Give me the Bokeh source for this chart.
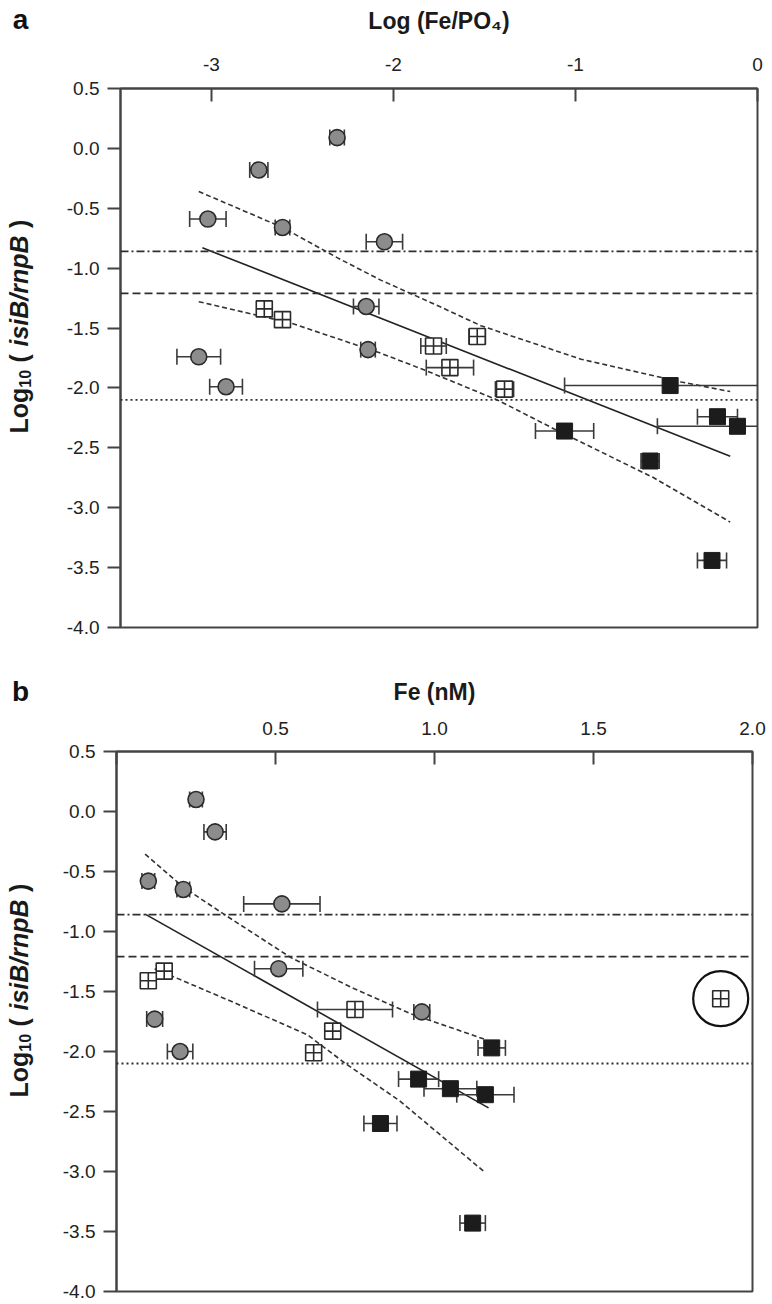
import numpy as np
from bokeh.plotting import figure
from bokeh.models import Range1d, FixedTicker, PrintfTickFormatter, Span
from bokeh.core.properties import value
from bokeh.layouts import column, row
from bokeh.embed import file_html
from bokeh.resources import INLINE

# ---------------- data ----------------
y_ticks = [-4.0, -3.5, -3.0, -2.5, -2.0, -1.5, -1.0, -0.5, 0.0, 0.5]
a_x_ticks = [-3, -2, -1, 0]
b_x_ticks = [0, 0.5, 1.0, 1.5, 2.0]

thr_dashdot = -0.86
thr_dashed = -1.21
thr_dotted = -2.10

# panel a: x = Log(Fe/PO4)
a_circ_x = [-2.31, -2.74, -3.02, -2.61, -2.05, -2.15, -2.14, -3.07, -2.92]
a_circ_y = [0.09, -0.18, -0.59, -0.66, -0.78, -1.32, -1.68, -1.74, -1.99]
a_circ_xerr = [0.04, 0.05, 0.10, 0.04, 0.10, 0.07, 0.04, 0.12, 0.09]

a_open_x = [-2.71, -2.61, -1.78, -1.54, -1.69, -1.39]
a_open_y = [-1.34, -1.43, -1.65, -1.57, -1.83, -2.01]
a_open_xerr = [0.04, 0.03, 0.07, 0.045, 0.13, 0.05]

a_fill_x = [-0.48, -0.22, -0.11, -1.06, -0.59, -0.25]
a_fill_y = [-1.98, -2.24, -2.32, -2.36, -2.61, -3.44]
a_fill_xerr = [0.58, 0.11, 0.44, 0.16, 0.05, 0.08]

a_fit_x = [-3.05, -0.15]
a_fit_y = [-0.83, -2.57]
a_up_x = [-3.07, -2.61, -2.30, -2.07, -1.79, -1.52, -0.97, -0.42, -0.15]
a_up_y = [-0.36, -0.66, -0.92, -1.10, -1.29, -1.48, -1.76, -1.95, -2.03]
a_lo_x = [-3.07, -2.56, -2.07, -1.83, -1.43, -1.12, -0.57, -0.15]
a_lo_y = [-1.28, -1.46, -1.71, -1.85, -2.10, -2.34, -2.75, -3.12]

# panel b: x = Fe (nM)
b_circ_x = [0.25, 0.31, 0.10, 0.21, 0.52, 0.51, 0.96, 0.12, 0.20]
b_circ_y = [0.10, -0.17, -0.58, -0.65, -0.77, -1.31, -1.67, -1.73, -2.00]
b_circ_xerr = [0.02, 0.035, 0.02, 0.02, 0.12, 0.076, 0.025, 0.025, 0.04]

b_open_x = [0.15, 0.10, 0.75, 1.90, 0.68, 0.62]
b_open_y = [-1.33, -1.41, -1.65, -1.56, -1.83, -2.01]
b_open_xerr = [0.02, 0.01, 0.118, 0.02, 0.02, 0.02]

b_fill_x = [1.18, 0.95, 1.05, 1.16, 0.83, 1.12]
b_fill_y = [-1.97, -2.23, -2.31, -2.36, -2.60, -3.43]
b_fill_xerr = [0.043, 0.063, 0.083, 0.09, 0.052, 0.04]

b_ring_x = [1.90]
b_ring_y = [-1.56]

b_fit_x = [0.09, 1.17]
b_fit_y = [-0.855, -2.47]
b_up_x = [0.09, 0.21, 0.34, 0.55, 0.75, 0.93, 1.16]
b_up_y = [-0.355, -0.63, -0.86, -1.22, -1.48, -1.69, -1.90]
b_lo_x = [0.12, 0.35, 0.60, 0.72, 0.89, 1.16]
b_lo_y = [-1.31, -1.57, -1.86, -2.10, -2.41, -3.01]

# ---------------- style ----------------
FONT = "Liberation Sans"
AX = "#444444"
ERR = "#3a3a3a"
TICK_SIZE = "19px"
LAB_SIZE = "23px"
SIDE_W = 40


def errbars(p, x, y, e):
    x = np.asarray(x, float)
    y = np.asarray(y, float)
    e = np.asarray(e, float)
    p.segment(x0=x - e, y0=y, x1=x + e, y1=y, line_color=ERR, line_width=1.6)
    p.scatter(x=np.concatenate([x - e, x + e]), y=np.concatenate([y, y]),
              marker="dash", size=16, angle=np.pi / 2,
              line_color=ERR, line_width=1.6)


def side_fig(fh, bt, bb, letter, letter_standoff, lab_y0, lab_x=18, F=25):
    """Narrow strip at the left: panel letter (as top-axis title) and the y-axis title."""
    f = figure(x_range=Range1d(0, SIDE_W), y_range=Range1d(0, fh),
               frame_width=SIDE_W, frame_height=fh, min_border_left=0,
               min_border_right=0, min_border_top=bt, min_border_bottom=bb,
               x_axis_location="above", y_axis_type=None, title=None,
               toolbar_location=None, output_backend="svg")
    f.grid.visible = False
    f.outline_line_color = None
    xa = f.xaxis[0]
    xa.ticker = FixedTicker(ticks=[])
    xa.axis_line_color = None
    xa.major_tick_line_color = None
    xa.minor_tick_line_color = None
    xa.major_tick_out = 0
    xa.major_tick_in = 0
    xa.major_label_standoff = 0
    xa.axis_label = letter
    xa.axis_label_text_font = FONT
    xa.axis_label_text_font_style = "bold"
    xa.axis_label_text_font_size = "28px"
    xa.axis_label_text_color = "#111111"
    xa.axis_label_standoff = letter_standoff

    def txt(t, x, y, style, size):
        f.text(x=[x], y=[y], text=[t], angle=np.pi / 2, text_font=value(FONT),
               text_font_style=value(style), text_font_size=value(f"{size}px"),
               text_align=value("left"), text_baseline=value("middle"),
               text_color="#1a1a1a")

    sub = round(F * 0.62)
    w = 0.0
    txt("Log", lab_x, lab_y0, "bold", F)
    w += 1.833 * F
    txt("10", lab_x + F * 0.25, lab_y0 + w, "bold", sub)
    w += 2 * 0.556 * sub + 0.3 * F
    txt("(", lab_x, lab_y0 + w, "bold", F)
    w += 0.333 * F + 0.3 * F
    txt("isiB/rnpB", lab_x, lab_y0 + w, "bold italic", F)
    w += 4.445 * F + 0.3 * F
    txt(")", lab_x, lab_y0 + w, "bold", F)
    return f


def make_panel(xr, xticks, xfmt, xlabel, fw, fh, bl, bt, bb, br,
               tick_standoff, xlab_standoff, overrides=None):
    p = figure(x_range=Range1d(*xr), y_range=Range1d(-4.0, 0.5),
               x_axis_location="above", frame_width=fw, frame_height=fh,
               min_border_left=bl, min_border_top=bt, min_border_bottom=bb,
               min_border_right=br, output_backend="svg", title=None,
               toolbar_location=None, background_fill_color="white",
               border_fill_color="white")
    p.grid.visible = False
    p.outline_line_color = AX
    p.outline_line_width = 2
    p.outline_line_alpha = 1.0

    xa = p.xaxis[0]
    xa.ticker = FixedTicker(ticks=xticks)
    xa.formatter = PrintfTickFormatter(format=xfmt)
    if overrides:
        xa.major_label_overrides = overrides
    xa.major_tick_in = 13
    xa.major_tick_out = 0
    xa.minor_tick_line_color = None
    xa.axis_line_color = AX
    xa.axis_line_width = 2
    xa.major_tick_line_color = AX
    xa.major_tick_line_width = 2
    xa.major_label_text_font = FONT
    xa.major_label_text_font_size = TICK_SIZE
    xa.major_label_text_color = "#222222"
    xa.major_label_standoff = tick_standoff
    xa.axis_label = xlabel
    xa.axis_label_text_font = FONT
    xa.axis_label_text_font_size = LAB_SIZE
    xa.axis_label_text_font_style = "bold"
    xa.axis_label_text_color = "#1a1a1a"
    xa.axis_label_standoff = xlab_standoff

    ya = p.yaxis[0]
    ya.ticker = FixedTicker(ticks=y_ticks)
    ya.formatter = PrintfTickFormatter(format="%.1f")
    ya.major_tick_in = 0
    ya.major_tick_out = 13
    ya.minor_tick_line_color = None
    ya.axis_line_color = AX
    ya.axis_line_width = 2
    ya.major_tick_line_color = AX
    ya.major_tick_line_width = 2
    ya.major_label_text_font = FONT
    ya.major_label_text_font_size = TICK_SIZE
    ya.major_label_text_color = "#222222"
    ya.major_label_standoff = 8

    for yv, dash in ((thr_dashdot, "8 3 2 3"), (thr_dashed, "8 4"), (thr_dotted, "2 3")):
        p.add_layout(Span(location=yv, dimension="width", line_color="#2e2e2e",
                          line_width=1.8, line_dash=dash))
    return p


def draw(p, circ, opn, fill, fit, up, lo):
    p.line(fit[0], fit[1], line_color="#222222", line_width=1.6)
    p.line(up[0], up[1], line_color="#333333", line_width=1.6, line_dash="5 3")
    p.line(lo[0], lo[1], line_color="#333333", line_width=1.6, line_dash="5 3")
    errbars(p, *circ)
    errbars(p, *opn)
    errbars(p, *fill)
    p.scatter(circ[0], circ[1], marker="circle", size=16, fill_color="#8c8c8c",
              line_color="#2a2a2a", line_width=1.6)
    p.scatter(opn[0], opn[1], marker="square_cross", size=16, fill_color="white",
              line_color="#2a2a2a", line_width=1.6)
    p.scatter(fill[0], fill[1], marker="square", size=16, fill_color="#1c1c1c",
              line_color="#1c1c1c", line_width=1)


# ---------------- panel a ----------------
A_BT, A_FH, A_BB = 88, 539, 10
pa = make_panel((-3.5, 0.0), a_x_ticks, "%.0f", "Log (Fe/PO\u2084)",
                fw=637, fh=A_FH, bl=120 - SIDE_W, bt=A_BT, bb=A_BB, br=12,
                tick_standoff=18, xlab_standoff=21)
draw(pa, (a_circ_x, a_circ_y, a_circ_xerr), (a_open_x, a_open_y, a_open_xerr),
     (a_fill_x, a_fill_y, a_fill_xerr), (a_fit_x, a_fit_y), (a_up_x, a_up_y),
     (a_lo_x, a_lo_y))
sa = side_fig(A_FH, A_BT, A_BB, "a", 54, 194)

# ---------------- panel b ----------------
B_BT, B_FH, B_BB = 114, 540, 12
pb = make_panel((0.0, 2.0), b_x_ticks, "%.1f", "Fe (nM)",
                fw=636, fh=B_FH, bl=116 - SIDE_W, bt=B_BT, bb=B_BB, br=16,
                tick_standoff=17, xlab_standoff=14, overrides={0: ""})
draw(pb, (b_circ_x, b_circ_y, b_circ_xerr), (b_open_x, b_open_y, b_open_xerr),
     (b_fill_x, b_fill_y, b_fill_xerr), (b_fit_x, b_fit_y), (b_up_x, b_up_y),
     (b_lo_x, b_lo_y))
pb.scatter(b_ring_x, b_ring_y, marker="circle", size=55, fill_color=None,
           line_color="#111111", line_width=2.2)
sb = side_fig(B_FH, B_BT, B_BB, "b", 45, 194)

layout = column(row(sa, pa, spacing=0), row(sb, pb, spacing=0), spacing=0)
open("out.html", "w").write(file_html(layout, INLINE))
